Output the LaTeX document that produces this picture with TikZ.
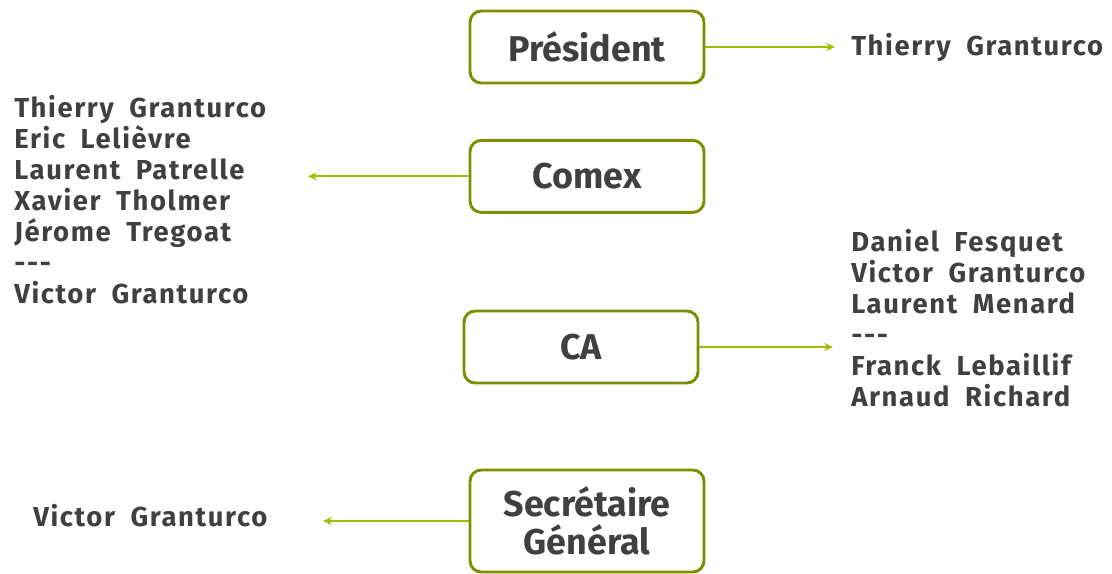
\documentclass[tikz,border=0pt]{standalone}
\usepackage{fontspec}
\setmainfont{Fira Sans}[WordSpace=1.7]
\newfontfamily\namesfont{Fira Sans}[LetterSpace=6, WordSpace=1.9]
\usetikzlibrary{arrows.meta}
\definecolor{boxolive}{RGB}{125,142,0}
\definecolor{arrowgreen}{RGB}{164,188,0}
\definecolor{textgray}{RGB}{64,64,64}

\begin{document}
\begin{tikzpicture}[
    role/.style={rectangle, rounded corners=0.28cm, draw=boxolive, line width=2.1pt, fill=white, minimum width=5.85cm, minimum height=1.8cm, align=center, text=textgray, font=\fontsize{25.5}{27}\selectfont\bfseries},
    members/.style={inner sep=0pt, align=left, text=textgray, font=\namesfont\fontsize{19.5}{22}\selectfont\bfseries},
    link/.style={-{Stealth[length=0.22cm,width=0.2cm]}, draw=arrowgreen, line width=1.4pt}]
        \useasboundingbox (0,0) rectangle (27.8,-14.35);

        \node[role] (president) at(14.675,-1.175){Président};
        \node[role] (comex) at(14.675,-4.41){Comex};
        \node[role] (ca) at(14.525,-8.675){CA};
        \node[role, minimum height=2.55cm] (secretaire) at(14.675,-13.025){Secrétaire\\Général};

        \node[members, anchor=west] (president-names) at(21.275,-1.175){Thierry Granturco};
        \node[members, anchor=north west] (comex-names) at(0.35,-2.375){Thierry Granturco\\Eric Lelièvre\\Laurent Patrelle\\Xavier Tholmer\\Jérome Tregoat\\-{}-{}-\\Victor Granturco};
        \node[members, anchor=north west] (ca-names) at(21.275,-5.725){Daniel Fesquet\\Victor Granturco\\Laurent Menard\\-{}-{}-\\Franck Lebaillif\\Arnaud Richard};
        \node[members, anchor=west] (secretaire-names) at(0.825,-12.9){Victor Granturco};

        \coordinate (comex-end) at(7.7,-4.41);
        \coordinate (secretaire-end) at(8.075,-13.025);

        \draw [link, shorten >=0.4cm] (president) -- (president-names);
        \draw [link] (comex) -- (comex-end);
        \draw [link, shorten >=0.45cm] (ca) -- (ca-names.west |- ca);
        \draw [link] (secretaire) -- (secretaire-end);

\end{tikzpicture}
\end{document}
